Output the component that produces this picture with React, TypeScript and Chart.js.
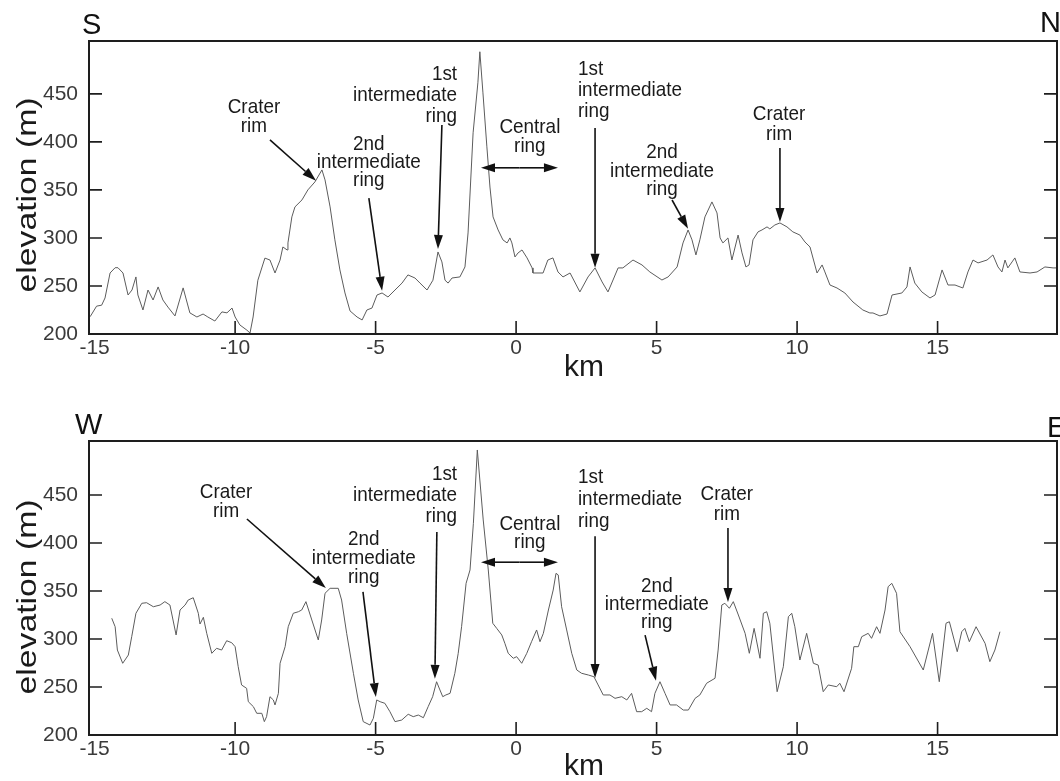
import React, { useEffect, useRef } from "react";
import { Chart, registerables } from "chart.js";
Chart.register(...registerables);

const FONT = '"Liberation Sans", Arial, Helvetica, sans-serif';

const xTicks = [-15, -10, -5, 0, 5, 10, 15];
const yTicks = [200, 250, 300, 350, 400, 450];

// S–N profile
const snKm = [
  -15.16, -14.93, -14.75, -14.63, -14.45, -14.27, -14.17, -13.99, -13.81, -13.67,
  -13.53, -13.46, -13.28, -13.10, -12.92, -12.74, -12.57, -12.39, -12.14, -11.85,
  -11.61, -11.36, -11.14, -10.97, -10.72, -10.47, -10.29, -10.11, -10.0, -9.83,
  -9.58, -9.47, -9.36, -9.19, -8.94, -8.76, -8.58, -8.40, -8.30, -8.15,
  -8.12, -7.98, -7.87, -7.62, -7.41, -7.16, -6.91, -6.80, -6.62, -6.45,
  -6.27, -6.09, -5.91, -5.66, -5.48,
  -5.31, -5.13, -4.95, -4.77, -4.56, -4.31, -4.06, -3.85, -3.60, -3.42,
  -3.17, -2.96, -2.78, -2.64, -2.53, -2.42, -2.28, -2.00, -1.82, -1.71,
  -1.53, -1.36, -1.29, -1.18, -1.04, -0.93, -0.82, -0.64, -0.47, -0.32,
  -0.22, -0.15, -0.04, 0.07, 0.21, 0.39, 0.57, 0.60, 0.96, 1.13,
  1.31, 1.49, 1.67, 1.92, 2.27, 2.56, 2.81, 3.06, 3.27, 3.45,
  3.63, 3.80, 4.16, 4.48, 4.76, 5.19, 5.41, 5.73, 5.94, 6.12,
  6.26, 6.40, 6.54, 6.72, 6.97, 7.15, 7.26, 7.36, 7.54, 7.68,
  7.90, 8.04, 8.18, 8.29, 8.43, 8.61, 8.75, 8.93, 9.03, 9.21,
  9.39, 9.64, 9.85, 10.10, 10.28, 10.46, 10.71, 10.89, 10.99, 11.17,
  11.42, 11.70, 11.99, 12.34, 12.59, 12.70, 12.95, 13.20, 13.38, 13.73,
  13.91, 14.02, 14.19, 14.44, 14.73, 14.91, 15.16, 15.37, 15.62, 15.90,
  16.08, 16.26, 16.44, 16.76, 16.97, 17.15, 17.29, 17.40, 17.50, 17.65,
  17.75, 17.93, 18.29, 18.54, 18.82, 19.11, 19.25,
];
const snElev = [
  218, 229, 230, 237.5, 263.5, 269, 269, 263.5, 240.6, 245.8,
  259.4, 240.6, 225, 245.8, 235.4, 249, 235.4, 228, 218.8, 248,
  222, 217.7, 220.8, 217.7, 213.5, 223, 222, 227, 217.7, 209.4,
  204, 201, 217.7, 256, 279, 277, 263.5, 277, 290.6, 287.5,
  294.8, 321.9, 332.3, 339.6, 350, 358.3, 370.8, 360.4, 332.3, 298,
  266.7, 242.7, 224, 217.7, 214.6,
  225, 227, 240.6, 242.7, 238.5, 245.8, 253, 261.5, 258.3, 253,
  245.8, 256, 285.4, 275, 256, 253, 258.3, 259.4, 269.8, 305.2,
  409.4, 461.5, 493.8, 451, 394.8, 353, 321.9, 308.3, 298, 294.8,
  300, 294.8, 280.2, 284.4, 287.5, 279.2, 268.8, 263.5, 263.5, 277,
  279.2, 264.6, 259.4, 263.5, 243.8, 259.4, 268.8, 254.2, 243.8, 256.2,
  268.8, 268.8, 277, 271.9, 264.6, 256.2, 259.4, 269.8, 294.8, 308.3,
  298, 282.3, 298, 321.9, 337.5, 326, 300, 294.8, 300, 277,
  303, 284.4, 269.8, 271.9, 298, 306.3, 308.3, 311.5, 309.4, 313.5,
  315.6, 311.5, 306.3, 303, 295.8, 290.6, 263.5, 271.9, 264.6, 251,
  247.9, 242.7, 233.3, 225, 221.9, 221.9, 218.8, 220.8, 240.6, 242.7,
  249, 269.8, 253, 243.8, 237.5, 240.6, 266.7, 251, 251, 247.9,
  264.6, 277, 274, 277, 282.3, 269.8, 264.6, 277, 268.8, 275,
  279.2, 264.6, 263.5, 264.6, 269.8, 268.8, 268.8,
];

// W–E profile
const weKm = [
  -14.39, -14.27, -14.19, -14.00, -13.80, -13.68, -13.53, -13.32, -13.15, -12.91,
  -12.67, -12.50, -12.32, -12.10, -11.96, -11.78, -11.67, -11.49, -11.31, -11.25,
  -11.13, -11.01, -10.83, -10.66, -10.48, -10.30, -10.12, -10.00, -9.89, -9.77,
  -9.59, -9.53, -9.35, -9.23, -9.05, -8.96, -8.88, -8.76, -8.64, -8.58,
  -8.46, -8.40, -8.22, -8.11, -7.93, -7.75, -7.63, -7.48, -7.27, -7.04,
  -6.92, -6.80, -6.62, -6.33, -6.21, -6.03, -5.79, -5.62, -5.44, -5.20,
  -5.08, -4.96, -4.84, -4.67, -4.49, -4.31, -4.07, -3.84, -3.66, -3.48,
  -3.30, -3.13, -2.97, -2.83, -2.71, -2.61, -2.50, -2.35, -2.18, -2.06,
  -1.94, -1.78, -1.64, -1.52, -1.38, -1.29, -1.17, -0.99, -0.83, -0.69,
  -0.51, -0.40, -0.28, -0.10, 0.02, 0.20, 0.38, 0.55, 0.73, 0.85,
  0.97, 1.15, 1.32, 1.42, 1.50, 1.62, 1.80, 1.98, 2.16, 2.33,
  2.57, 2.77, 2.92, 3.10, 3.34, 3.52, 3.76, 3.94, 4.11, 4.29,
  4.47, 4.65, 4.82, 4.94, 5.12, 5.30, 5.48, 5.71, 5.95, 6.13,
  6.37, 6.54, 6.78, 7.08, 7.19, 7.32, 7.43, 7.59, 7.73, 7.91,
  8.15, 8.30, 8.47, 8.68, 8.80, 8.92, 9.03, 9.29, 9.51, 9.69,
  9.81, 9.92, 10.10, 10.34, 10.58, 10.75, 10.93, 11.11, 11.41, 11.52,
  11.67, 11.94, 12.02, 12.18, 12.30, 12.53, 12.65, 12.83, 12.95, 13.13,
  13.24, 13.37, 13.54, 13.66, 14.02, 14.49, 14.67, 14.82, 15.06, 15.30,
  15.42, 15.70, 15.86, 15.97, 16.13, 16.37, 16.69, 16.86, 17.04, 17.22,
];
const weElev = [
  321.6, 312.8, 288.5, 274.7, 283.3, 302.4, 326.8, 337.2, 337.8, 333.6,
  335.4, 338.9, 335.4, 304.2, 330.2, 335.4, 340.6, 343, 326.8, 315.6,
  322.6, 305.9, 285.1, 290.3, 288.5, 298.2, 296.1, 292, 271.1, 252.1,
  248.6, 234.7, 229.5, 222.6, 222.6, 213.9, 219.1, 239.9, 236.5, 231.3,
  243.4, 274.7, 292, 312.8, 326.8, 328.4, 330.2, 338.9, 319.8, 299,
  319.8, 347.6, 352.8, 352.8, 340.6, 305.9, 264.3, 236.5, 213.9, 210.4,
  217.4, 236.5, 234.7, 233, 224.3, 213.9, 215.6, 221.6, 219.1, 220.8,
  218, 229.5, 239.9, 255.5, 246.9, 239.9, 241.7, 243.4, 264.3, 285.1,
  312.8, 358, 371.9, 420.5, 496.9, 465.6, 424, 371.9, 316.4, 311.1,
  304.2, 295.5, 285.1, 279.9, 281.6, 274.7, 285.1, 297.2, 309.4, 297.2,
  305.9, 330.2, 351, 368.4, 366.7, 333.6, 309.4, 285.1, 267.7, 264.3,
  262.5, 260.7, 252.1, 241.7, 241.7, 238.2, 239.9, 236.5, 243.4, 224.3,
  224.3, 227.8, 224.3, 243.4, 255.5, 243.4, 231.3, 231.3, 226, 226,
  238.2, 241.7, 253.9, 259.1, 288.5, 335.4, 337.2, 332, 338.9, 325,
  305.9, 285.1, 311.1, 279.9, 326.8, 328.4, 316.4, 245.1, 271.1, 323.2,
  326.8, 312.8, 278.1, 305.9, 274.7, 272.9, 245.1, 252.1, 250.3, 253.9,
  245.1, 269.5, 292, 292, 302.4, 305.9, 300.7, 312.8, 305.9, 330.2,
  354.5, 358, 347.6, 307.6, 292, 267.7, 288.5, 305.9, 255.5, 316.4,
  318, 286.8, 307.6, 311.1, 297.2, 312.8, 295.5, 276.4, 288.5, 307.6,
];

type Note = {
  lines: string[];
  x: number;
  y: number;
  align: CanvasTextAlign;
  lh: number;
  arrow?: number[];
  both?: number[];
};

const snNotes: Note[] = [
  { lines: ["Crater", "rim"], x: -9.33, y: 430, align: "center", lh: 19, arrow: [-8.76, 402, -7.12, 359.5] },
  { lines: ["2nd", "intermediate", "ring"], x: -5.24, y: 392, align: "center", lh: 18, arrow: [-5.24, 341.5, -4.77, 245] },
  { lines: ["1st", "intermediate", "ring"], x: -2.1, y: 464.5, align: "right", lh: 21, arrow: [-2.64, 417.5, -2.78, 288.5] },
  { lines: ["Central", "ring"], x: 0.49, y: 409.5, align: "center", lh: 19, both: [-1.25, 1.49, 373] },
  { lines: ["1st", "intermediate", "ring"], x: 2.2, y: 470, align: "left", lh: 21, arrow: [2.81, 414.5, 2.81, 269] },
  { lines: ["2nd", "intermediate", "ring"], x: 5.19, y: 383, align: "center", lh: 18.5, arrow: [5.55, 339.5, 6.12, 309.5] },
  { lines: ["Crater", "rim"], x: 9.36, y: 423, align: "center", lh: 20, arrow: [9.39, 393.5, 9.39, 316.5] },
];

const weNotes: Note[] = [
  { lines: ["Crater", "rim"], x: -10.32, y: 447, align: "center", lh: 19, arrow: [-9.58, 425, -6.77, 353] },
  { lines: ["2nd", "intermediate", "ring"], x: -5.42, y: 398, align: "center", lh: 19, arrow: [-5.45, 349, -4.99, 239.5] },
  { lines: ["1st", "intermediate", "ring"], x: -2.1, y: 465.5, align: "right", lh: 21, arrow: [-2.82, 411.5, -2.89, 258.5] },
  { lines: ["Central", "ring"], x: 0.49, y: 413.5, align: "center", lh: 18, both: [-1.25, 1.49, 380] },
  { lines: ["1st", "intermediate", "ring"], x: 2.2, y: 462.5, align: "left", lh: 22, arrow: [2.81, 407, 2.81, 259.5] },
  { lines: ["2nd", "intermediate", "ring"], x: 5.01, y: 349, align: "center", lh: 18, arrow: [4.59, 304, 4.98, 256.5] },
  { lines: ["Crater", "rim"], x: 7.5, y: 445, align: "center", lh: 20, arrow: [7.54, 415.5, 7.54, 338.5] },
];

type Panel = {
  km: number[];
  elev: number[];
  notes: Note[];
  yMax: number;
  height: number;
  xAxisH: number;
  leftDir: string;
  rightDir: string;
  leftDirPos: number[];
  rightDirPos: number[];
  titleY: number;
  kmY: number;
};

const panels: Panel[] = [
  {
    km: snKm, elev: snElev, notes: snNotes, yMax: 505, height: 400, xAxisH: 66,
    leftDir: "S", rightDir: "N", leftDirPos: [82, 34], rightDirPos: [1040, 32],
    titleY: 195, kmY: 376,
  },
  {
    km: weKm, elev: weElev, notes: weNotes, yMax: 506.25, height: 381, xAxisH: 46,
    leftDir: "W", rightDir: "E", leftDirPos: [75, 34], rightDirPos: [1047, 37],
    titleY: 197, kmY: 375,
  },
];

function drawArrow(ctx: CanvasRenderingContext2D, x1: number, y1: number, x2: number, y2: number) {
  const ang = Math.atan2(y2 - y1, x2 - x1);
  const L = 14;
  const W = 4.5;
  const bx = x2 - L * Math.cos(ang);
  const by = y2 - L * Math.sin(ang);
  ctx.beginPath();
  ctx.moveTo(x1, y1);
  ctx.lineTo(bx, by);
  ctx.stroke();
  ctx.beginPath();
  ctx.moveTo(x2, y2);
  ctx.lineTo(bx + W * Math.sin(ang), by - W * Math.cos(ang));
  ctx.lineTo(bx - W * Math.sin(ang), by + W * Math.cos(ang));
  ctx.closePath();
  ctx.fill();
}

function buildChart(canvas: HTMLCanvasElement, p: Panel) {
  const points = p.km.map((k, i) => ({ x: k, y: p.elev[i] }));
  const decor = {
    id: "decor",
    afterDraw(chart: any) {
      const { ctx, chartArea: a } = chart;
      const xs = chart.scales.x;
      const ys = chart.scales.y;
      ctx.save();
      // frame
      ctx.strokeStyle = "#1e1e1e";
      ctx.lineWidth = 2;
      ctx.strokeRect(a.left, a.top, a.right - a.left, a.bottom - a.top);
      // inward ticks
      ctx.lineWidth = 1.6;
      ctx.beginPath();
      yTicks.forEach((v) => {
        if (v <= ys.min) return;
        const py = ys.getPixelForValue(v);
        ctx.moveTo(a.left, py);
        ctx.lineTo(a.left + 13, py);
        ctx.moveTo(a.right, py);
        ctx.lineTo(a.right - 13, py);
      });
      xTicks.forEach((v) => {
        if (v <= xs.min + 0.3) return;
        const px = xs.getPixelForValue(v);
        ctx.moveTo(px, a.bottom);
        ctx.lineTo(px, a.bottom - 13);
      });
      ctx.stroke();

      // direction letters
      ctx.fillStyle = "#111";
      ctx.font = `29px ${FONT}`;
      ctx.textAlign = "left";
      ctx.textBaseline = "alphabetic";
      ctx.fillText(p.leftDir, p.leftDirPos[0], p.leftDirPos[1]);
      ctx.fillText(p.rightDir, p.rightDirPos[0], p.rightDirPos[1]);

      // axis titles
      ctx.fillStyle = "#1a1a1a";
      ctx.font = `28px ${FONT}`;
      const title = "elevation (m)";
      const tw = ctx.measureText(title).width;
      ctx.save();
      ctx.translate(36, p.titleY);
      ctx.rotate(-Math.PI / 2);
      ctx.scale(195 / tw, 1);
      ctx.textAlign = "center";
      ctx.fillText(title, 0, 0);
      ctx.restore();
      ctx.font = `30px ${FONT}`;
      ctx.textAlign = "center";
      ctx.fillText("km", 584, p.kmY);

      // annotations
      ctx.fillStyle = "#1a1a1a";
      ctx.strokeStyle = "#111";
      ctx.font = `21px ${FONT}`;
      p.notes.forEach((n) => {
        const px = xs.getPixelForValue(n.x);
        const py = ys.getPixelForValue(n.y);
        n.lines.forEach((t, i) => {
          ctx.save();
          ctx.translate(px, py + i * n.lh);
          ctx.scale(0.9, 1);
          ctx.textAlign = n.align;
          ctx.fillText(t, 0, 0);
          ctx.restore();
        });
        ctx.lineWidth = 1.6;
        ctx.fillStyle = "#111";
        if (n.arrow) {
          const [x1, y1, x2, y2] = n.arrow;
          drawArrow(ctx, xs.getPixelForValue(x1), ys.getPixelForValue(y1), xs.getPixelForValue(x2), ys.getPixelForValue(y2));
        }
        if (n.both) {
          const [x1, x2, yv] = n.both;
          const ay = ys.getPixelForValue(yv);
          const l = xs.getPixelForValue(x1);
          const r = xs.getPixelForValue(x2);
          const m = (l + r) / 2;
          drawArrow(ctx, m, ay, l, ay);
          drawArrow(ctx, m, ay, r, ay);
        }
        ctx.fillStyle = "#1a1a1a";
      });
      ctx.restore();
    },
  };

  const tickFont = { family: FONT, size: 21 };
  return new Chart(canvas, {
    type: "line",
    data: {
      datasets: [
        {
          data: points,
          borderColor: "#5c5c5c",
          borderWidth: 1,
          pointRadius: 0,
          tension: 0,
          fill: false,
        },
      ],
    },
    options: {
      animation: false,
      responsive: false,
      devicePixelRatio: 1,
      layout: { padding: { left: 0, right: 3, top: 41, bottom: 0 } },
      plugins: { legend: { display: false }, tooltip: { enabled: false } },
      scales: {
        x: {
          type: "linear",
          min: -15.2,
          max: 19.25,
          afterBuildTicks: (s: any) => {
            s.ticks = xTicks.map((v) => ({ value: v }));
          },
          afterFit: (s: any) => {
            s.height = p.xAxisH;
          },
          grid: { display: false, drawTicks: false },
          border: { display: false },
          ticks: { font: tickFont, color: "#3a3a3a", padding: 2, maxRotation: 0, autoSkip: false },
        },
        y: {
          type: "linear",
          min: 200,
          max: p.yMax,
          afterBuildTicks: (s: any) => {
            s.ticks = yTicks.map((v) => ({ value: v }));
          },
          afterFit: (s: any) => {
            s.width = 89;
          },
          grid: { display: false, drawTicks: false },
          border: { display: false },
          ticks: { font: tickFont, color: "#3a3a3a", padding: 11, autoSkip: false },
        },
      },
    },
    plugins: [decor],
  } as any);
}

export default function App() {
  const topRef = useRef<HTMLCanvasElement>(null);
  const botRef = useRef<HTMLCanvasElement>(null);
  useEffect(() => {
    const charts: Chart[] = [];
    if (topRef.current) charts.push(buildChart(topRef.current, panels[0]));
    if (botRef.current) charts.push(buildChart(botRef.current, panels[1]));
    return () => charts.forEach((c) => c.destroy());
  }, []);
  return (
    <div style={{ position: "absolute", left: 0, top: 0, width: 1060, height: 781, background: "#fff" }}>
      <canvas
        ref={topRef}
        width={1060}
        height={panels[0].height}
        style={{ position: "absolute", left: 0, top: 0, width: 1060, height: panels[0].height }}
      />
      <canvas
        ref={botRef}
        width={1060}
        height={panels[1].height}
        style={{ position: "absolute", left: 0, top: panels[0].height, width: 1060, height: panels[1].height }}
      />
    </div>
  );
}
